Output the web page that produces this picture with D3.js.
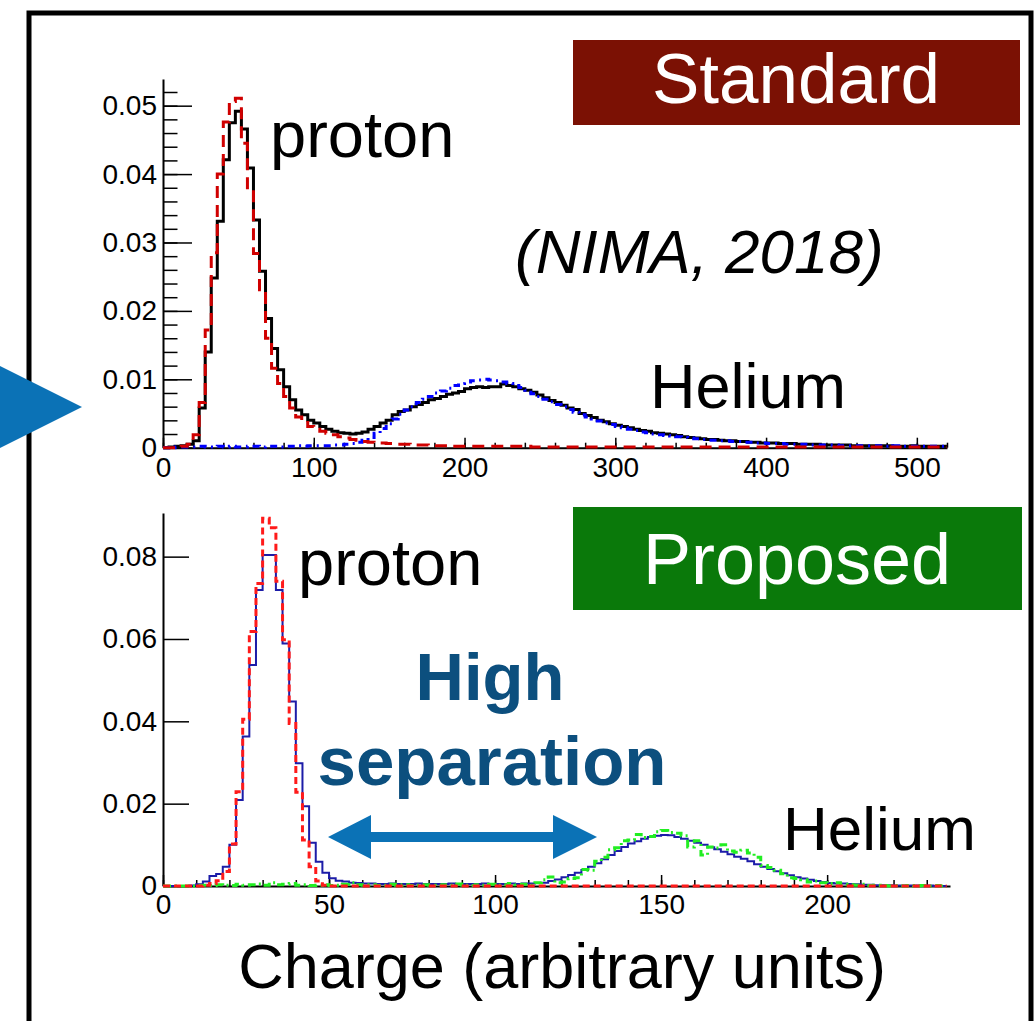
<!DOCTYPE html>
<html>
<head>
<meta charset="utf-8">
<script src="https://cdn.jsdelivr.net/npm/d3@7"></script>
<style>
  body { margin: 0; background: #fff; }
  svg { display: block; font-family: "Liberation Sans", Arial, sans-serif; }
  .axis path, .axis line { stroke: #000; }
  .axis text { font-size: 28px; fill: #000; font-family: "Liberation Sans", Arial, sans-serif; }
</style>
</head>
<body>
<div id="chart"></div>
<script>
// Top panel (standard) - bins of 4 charge units from 0 to 520
const topBinWidth = 4;
const topBlack = [
  0.0000, 0.0001, 0.0002, 0.0003, 0.0005, 0.0010, 0.0058, 0.0140, 0.0248, 0.0331,
  0.0421, 0.0475, 0.0492, 0.0466, 0.0409, 0.0333, 0.0258, 0.0189, 0.0145, 0.0114,
  0.0089, 0.0070, 0.0055, 0.0048, 0.0040, 0.0036, 0.0031, 0.0027, 0.0024, 0.0022,
  0.0021, 0.0020, 0.0021, 0.0023, 0.0027, 0.0031, 0.0036, 0.0040, 0.0048, 0.0053,
  0.0055, 0.0060, 0.0063, 0.0066, 0.0070, 0.0072, 0.0075, 0.0078, 0.0080, 0.0082,
  0.0086, 0.0088, 0.0089, 0.0088, 0.0089, 0.0089, 0.0093, 0.0091, 0.0089, 0.0086,
  0.0084, 0.0081, 0.0077, 0.0073, 0.0069, 0.0066, 0.0062, 0.0058, 0.0056, 0.0050,
  0.0047, 0.0044, 0.0040, 0.0038, 0.0035, 0.0033, 0.0031, 0.0029, 0.0027, 0.0025,
  0.0024, 0.0022, 0.0021, 0.0020, 0.0019, 0.0018, 0.0016, 0.0015, 0.0014, 0.0013,
  0.0012, 0.0012, 0.0011, 0.0010, 0.0010, 0.0009, 0.0009, 0.0008, 0.0008, 0.0007,
  0.0007, 0.0007, 0.0006, 0.0006, 0.0006, 0.0005, 0.0005, 0.0005, 0.0005, 0.0004,
  0.0004, 0.0004, 0.0004, 0.0004, 0.0003, 0.0003, 0.0003, 0.0003, 0.0003, 0.0003,
  0.0003, 0.0002, 0.0002, 0.0002, 0.0003, 0.0002, 0.0002, 0.0002, 0.0002, 0.0002
];
const topRed = [
  0.0000, 0.0000, 0.0001, 0.0002, 0.0005, 0.0019, 0.0066, 0.0172, 0.0285, 0.0400,
  0.0476, 0.0506, 0.0511, 0.0445, 0.0377, 0.0284, 0.0231, 0.0160, 0.0116, 0.0094,
  0.0075, 0.0058, 0.0045, 0.0037, 0.0031, 0.0027, 0.0024, 0.0021, 0.0019, 0.0016,
  0.0014, 0.0012, 0.0011, 0.0009, 0.0008, 0.0007, 0.0007, 0.0006, 0.0006, 0.0005,
  0.0005, 0.0004, 0.0004, 0.0004, 0.0003, 0.0003, 0.0003, 0.0003, 0.0002, 0.0002,
  0.0002, 0.0002, 0.0002, 0.0002, 0.0002, 0.0002, 0.0002, 0.0002, 0.0002, 0.0002,
  0.0002, 0.0001, 0.0001, 0.0001, 0.0001, 0.0001, 0.0001, 0.0001, 0.0001, 0.0001,
  0.0001, 0.0001, 0.0001, 0.0001, 0.0001, 0.0001, 0.0001, 0.0001, 0.0001, 0.0001,
  0.0001, 0.0001, 0.0001, 0.0001, 0.0001, 0.0001, 0.0001, 0.0001, 0.0001, 0.0001,
  0.0001, 0.0001, 0.0001, 0.0001, 0.0001, 0.0001, 0.0001, 0.0001, 0.0001, 0.0001,
  0.0001, 0.0001, 0.0001, 0.0001, 0.0001, 0.0001, 0.0001, 0.0001, 0.0001, 0.0001,
  0.0001, 0.0001, 0.0001, 0.0001, 0.0001, 0.0001, 0.0001, 0.0001, 0.0001, 0.0001,
  0.0001, 0.0001, 0.0001, 0.0001, 0.0001, 0.0001, 0.0001, 0.0001, 0.0001, 0.0001
];
const topBlue = [
  0.0000, 0.0000, 0.0001, 0.0001, 0.0001, 0.0001, 0.0002, 0.0001, 0.0001, 0.0002,
  0.0001, 0.0002, 0.0001, 0.0001, 0.0002, 0.0002, 0.0001, 0.0002, 0.0002, 0.0001,
  0.0002, 0.0002, 0.0003, 0.0002, 0.0003, 0.0003, 0.0003, 0.0003, 0.0004, 0.0004,
  0.0005, 0.0006, 0.0008, 0.0011, 0.0015, 0.0021, 0.0028, 0.0035, 0.0042, 0.0049,
  0.0055, 0.0060, 0.0066, 0.0071, 0.0075, 0.0080, 0.0083, 0.0087, 0.0091, 0.0094,
  0.0096, 0.0098, 0.0099, 0.0100, 0.0099, 0.0098, 0.0096, 0.0094, 0.0091, 0.0088,
  0.0084, 0.0079, 0.0075, 0.0071, 0.0067, 0.0063, 0.0060, 0.0056, 0.0052, 0.0048,
  0.0045, 0.0042, 0.0039, 0.0036, 0.0034, 0.0031, 0.0029, 0.0027, 0.0025, 0.0023,
  0.0022, 0.0020, 0.0019, 0.0018, 0.0017, 0.0016, 0.0015, 0.0014, 0.0013, 0.0012,
  0.0011, 0.0011, 0.0010, 0.0010, 0.0009, 0.0009, 0.0008, 0.0008, 0.0007, 0.0007,
  0.0006, 0.0006, 0.0006, 0.0005, 0.0005, 0.0005, 0.0005, 0.0004, 0.0004, 0.0004,
  0.0004, 0.0004, 0.0003, 0.0003, 0.0003, 0.0003, 0.0003, 0.0003, 0.0003, 0.0002,
  0.0002, 0.0003, 0.0002, 0.0002, 0.0002, 0.0002, 0.0002, 0.0002, 0.0002, 0.0002
];
const topXTicks = [0, 100, 200, 300, 400, 500];
const topYTicks = [0, 0.01, 0.02, 0.03, 0.04, 0.05];

// Bottom panel (proposed) - bins of 2 charge units from 0 to 236
const botBinWidth = 2;
const botNavy = [
  0.0000, 0.0000, 0.0000, 0.0000, 0.0001, 0.0004, 0.0011, 0.0024, 0.0029, 0.0047,
  0.0100, 0.0209, 0.0363, 0.0537, 0.0719, 0.0804, 0.0804, 0.0719, 0.0589, 0.0448,
  0.0298, 0.0194, 0.0105, 0.0059, 0.0032, 0.0019, 0.0013, 0.0011, 0.0008, 0.0007,
  0.0006, 0.0006, 0.0005, 0.0005, 0.0006, 0.0005, 0.0005, 0.0005, 0.0006, 0.0005,
  0.0005, 0.0005, 0.0005, 0.0006, 0.0005, 0.0005, 0.0005, 0.0005, 0.0006, 0.0005,
  0.0005, 0.0005, 0.0006, 0.0005, 0.0006, 0.0006, 0.0007, 0.0008, 0.0012, 0.0016,
  0.0021, 0.0027, 0.0032, 0.0039, 0.0047, 0.0055, 0.0065, 0.0075, 0.0085, 0.0095,
  0.0103, 0.0109, 0.0115, 0.0119, 0.0122, 0.0124, 0.0123, 0.0119, 0.0115, 0.0110,
  0.0105, 0.0100, 0.0094, 0.0089, 0.0083, 0.0077, 0.0071, 0.0066, 0.0060, 0.0053,
  0.0047, 0.0041, 0.0036, 0.0031, 0.0026, 0.0021, 0.0018, 0.0015, 0.0012, 0.0010,
  0.0007, 0.0006, 0.0006, 0.0005, 0.0004, 0.0003, 0.0003, 0.0002, 0.0002, 0.0002,
  0.0001, 0.0001, 0.0001, 0.0001, 0.0000, 0.0001, 0.0000, 0.0000
];
const botRed = [
  0.0000, 0.0000, 0.0000, 0.0000, 0.0000, 0.0000, 0.0002, 0.0006, 0.0013, 0.0035,
  0.0102, 0.0229, 0.0405, 0.0618, 0.0735, 0.0893, 0.0870, 0.0740, 0.0598, 0.0395,
  0.0228, 0.0112, 0.0047, 0.0012, 0.0002, 0.0000, 0.0000, 0.0000, 0.0000, 0.0000,
  0.0000, 0.0000, 0.0000, 0.0000, 0.0000, 0.0000, 0.0000, 0.0000, 0.0000, 0.0000,
  0.0000, 0.0000, 0.0000, 0.0000, 0.0000, 0.0000, 0.0000, 0.0000, 0.0000, 0.0000,
  0.0000, 0.0000, 0.0000, 0.0000, 0.0000, 0.0000, 0.0000, 0.0000, 0.0000, 0.0000,
  0.0000, 0.0000, 0.0000, 0.0000, 0.0000, 0.0000, 0.0000, 0.0000, 0.0000, 0.0000,
  0.0000, 0.0000, 0.0000, 0.0000, 0.0000, 0.0000, 0.0000, 0.0000, 0.0000, 0.0000,
  0.0000, 0.0000, 0.0000, 0.0000, 0.0000, 0.0000, 0.0000, 0.0000, 0.0000, 0.0000,
  0.0000, 0.0000, 0.0000, 0.0000, 0.0000, 0.0000, 0.0000, 0.0000, 0.0000, 0.0000,
  0.0000, 0.0000, 0.0000, 0.0000, 0.0000, 0.0000, 0.0000, 0.0000, 0.0000, 0.0000,
  0.0000, 0.0000, 0.0000, 0.0000, 0.0000, 0.0000, 0.0000, 0.0000
];
const botGreen = [
  0.0000, 0.0000, 0.0000, 0.0000, 0.0000, 0.0001, 0.0002, 0.0001, 0.0003, 0.0002,
  0.0001, 0.0004, 0.0002, 0.0003, 0.0005, 0.0002, 0.0008, 0.0003, 0.0004, 0.0006,
  0.0002, 0.0003, 0.0001, 0.0002, 0.0003, 0.0001, 0.0002, 0.0004, 0.0008, 0.0003,
  0.0002, 0.0003, 0.0001, 0.0002, 0.0004, 0.0002, 0.0003, 0.0001, 0.0002, 0.0003,
  0.0002, 0.0001, 0.0003, 0.0002, 0.0005, 0.0002, 0.0001, 0.0003, 0.0002, 0.0004,
  0.0002, 0.0003, 0.0006, 0.0003, 0.0004, 0.0002, 0.0008, 0.0015, 0.0022, 0.0008,
  0.0010, 0.0018, 0.0020, 0.0040, 0.0038, 0.0060, 0.0070, 0.0088, 0.0093, 0.0110,
  0.0112, 0.0125, 0.0118, 0.0120, 0.0132, 0.0135, 0.0130, 0.0128, 0.0122, 0.0095,
  0.0110, 0.0075, 0.0095, 0.0092, 0.0100, 0.0085, 0.0082, 0.0087, 0.0080, 0.0070,
  0.0050, 0.0045, 0.0038, 0.0030, 0.0020, 0.0018, 0.0015, 0.0010, 0.0012, 0.0008,
  0.0006, 0.0008, 0.0004, 0.0003, 0.0002, 0.0004, 0.0001, 0.0002, 0.0001, 0.0000,
  0.0001, 0.0000, 0.0001, 0.0000, 0.0001, 0.0000, 0.0001, 0.0000
];
const botXTicks = [0, 50, 100, 150, 200];
const botYTicks = [0, 0.02, 0.04, 0.06, 0.08];

const W = 1034, H = 1021;
const svg = d3.select("#chart").append("svg")
    .attr("width", W)
    .attr("height", H);

// scales for both panels
const xTop = d3.scaleLinear().domain([0, 520]).range([163, 947]);
const yTop = d3.scaleLinear().domain([0, 0.0539]).range([447.7, 79]);
const xBot = d3.scaleLinear().domain([0, 237]).range([163, 950]);
const yBot = d3.scaleLinear().domain([0, 0.0906]).range([886, 513]);

// step outline, the way ROOT draws a histogram
function histPath(values, binW, x, y) {
    const pts = values.map((v, i) => [i * binW, v]);
    pts.push([values.length * binW, values[values.length - 1]]);
    return d3.line()
        .x(d => x(d[0]))
        .y(d => y(d[1]))
        .curve(d3.curveStepAfter)(pts);
}

function drawAxes(x, y, xTicks, yTicks, xMinorStep, yMinorStep, opts) {
    const g = svg.append("g").attr("class", "axis");
    const x0 = x.range()[0], y0 = y.range()[0];

    // minor ticks first, so major ones sit on top
    const xMinor = d3.range(0, x.domain()[1] + 1e-9, xMinorStep);
    g.append("g")
        .attr("transform", `translate(0,${y0})`)
        .call(d3.axisBottom(x).tickValues(xMinor).tickSize(-opts.xMinorLen).tickSizeOuter(0).tickFormat(""))
        .call(s => s.select(".domain").remove())
        .selectAll("line").attr("stroke-width", 1.5);
    if (yMinorStep) {
        const yMinor = d3.range(0, y.domain()[1] + 1e-9, yMinorStep);
        g.append("g")
            .attr("transform", `translate(${x0},0)`)
            .call(d3.axisLeft(y).tickValues(yMinor).tickSize(-opts.yMinorLen).tickSizeOuter(0).tickFormat(""))
            .call(s => s.select(".domain").remove())
            .selectAll("line").attr("stroke-width", 1.5);
    }

    g.append("g")
        .attr("transform", `translate(0,${y0})`)
        .call(d3.axisBottom(x).tickValues(xTicks).tickSize(-opts.xMajorLen).tickSizeOuter(0).tickPadding(opts.xPad))
        .call(s => s.select(".domain").attr("stroke-width", 2))
        .call(s => s.selectAll("line").attr("stroke-width", 1.5));

    g.append("g")
        .attr("transform", `translate(${x0},0)`)
        .call(d3.axisLeft(y).tickValues(yTicks).tickSize(-opts.yMajorLen).tickSizeOuter(0).tickPadding(6)
            .tickFormat(d => d === 0 ? "0" : d3.format(".2f")(d)))
        .call(s => s.select(".domain").attr("stroke-width", 2))
        .call(s => s.selectAll("line").attr("stroke-width", 1.5));
}

// outer frame
svg.append("rect")
    .attr("x", 29).attr("y", 13)
    .attr("width", 1002).attr("height", 1030)
    .attr("fill", "none").attr("stroke", "#000").attr("stroke-width", 5);

// ---- top panel ----
drawAxes(xTop, yTop, topXTicks, topYTicks, 20, 0.002,
    { xMajorLen: 10, xMinorLen: 5, yMajorLen: 29, yMinorLen: 14.5, xPad: 9 });

svg.append("path").attr("d", histPath(topBlack, topBinWidth, xTop, yTop))
    .attr("fill", "none").attr("stroke", "#000").attr("stroke-width", 3);
svg.append("path").attr("d", histPath(topBlue, topBinWidth, xTop, yTop))
    .attr("fill", "none").attr("stroke", "#0000ff").attr("stroke-width", 3)
    .attr("stroke-dasharray", "7,5,2,5");
svg.append("path").attr("d", histPath(topRed, topBinWidth, xTop, yTop))
    .attr("fill", "none").attr("stroke", "#d00000").attr("stroke-width", 3)
    .attr("stroke-dasharray", "12,7");

// ---- bottom panel ----
drawAxes(xBot, yBot, botXTicks, botYTicks, 10, null,
    { xMajorLen: 11, xMinorLen: 6, yMajorLen: 26, yMinorLen: 0, xPad: 8 });

svg.append("path").attr("d", histPath(botNavy, botBinWidth, xBot, yBot))
    .attr("fill", "none").attr("stroke", "#1c1ca8").attr("stroke-width", 2);
svg.append("path").attr("d", histPath(botGreen, botBinWidth, xBot, yBot))
    .attr("fill", "none").attr("stroke", "#22ee22").attr("stroke-width", 3)
    .attr("stroke-dasharray", "8,4,2,4");
svg.append("path").attr("d", histPath(botRed, botBinWidth, xBot, yBot))
    .attr("fill", "none").attr("stroke", "#ff1a1a").attr("stroke-width", 3)
    .attr("stroke-dasharray", "7,4");

// ---- annotations ----
svg.append("rect").attr("x", 573).attr("y", 40).attr("width", 447).attr("height", 85).attr("fill", "#7b1104");
svg.append("text").attr("x", 796).attr("y", 103).attr("text-anchor", "middle")
    .attr("font-size", 71).attr("fill", "#fff").text("Standard");

svg.append("rect").attr("x", 573).attr("y", 507).attr("width", 449).attr("height", 103).attr("fill", "#0a790a");
svg.append("text").attr("x", 797).attr("y", 584).attr("text-anchor", "middle")
    .attr("font-size", 72).attr("fill", "#fff").text("Proposed");

svg.append("text").attr("x", 270).attr("y", 157).attr("font-size", 65).text("proton");
svg.append("text").attr("x", 515).attr("y", 273).attr("font-size", 62)
    .attr("font-style", "italic").text("(NIMA, 2018)");
svg.append("text").attr("x", 650).attr("y", 408).attr("font-size", 63).text("Helium");

svg.append("text").attr("x", 298).attr("y", 585).attr("font-size", 65).text("proton");
svg.append("text").attr("x", 490).attr("y", 700).attr("text-anchor", "middle")
    .attr("font-size", 67).attr("font-weight", "bold").attr("fill", "#0c4f7e").text("High");
svg.append("text").attr("x", 492).attr("y", 785).attr("text-anchor", "middle")
    .attr("font-size", 69).attr("font-weight", "bold").attr("fill", "#0c4f7e").text("separation");
svg.append("text").attr("x", 783).attr("y", 850).attr("font-size", 62).text("Helium");

svg.append("text").attr("x", 562).attr("y", 988).attr("text-anchor", "middle")
    .attr("font-size", 63).text("Charge (arbitrary units)");

// double arrow between the two peaks
const arrowColor = "#0b72b6";
svg.append("path")
    .attr("d", "M328,837 L371,815 L371,832 L553,832 L553,815 L597,837 L553,859 L553,842 L371,842 L371,859 Z")
    .attr("fill", arrowColor);

// big pointer on the left edge
svg.append("path")
    .attr("d", "M-12,360 L82,407 L-12,454 Z")
    .attr("fill", arrowColor);
</script>
</body>
</html>
